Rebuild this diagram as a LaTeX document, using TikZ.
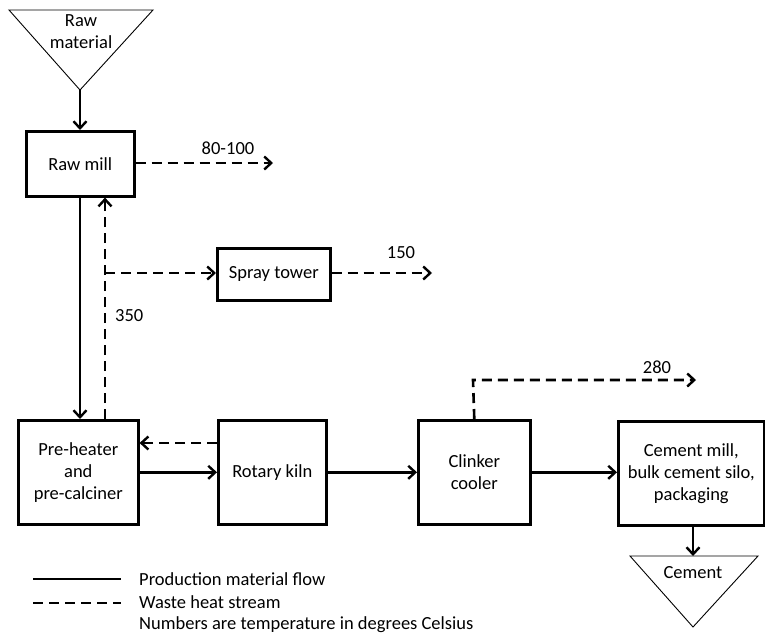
\documentclass[tikz,border=0pt]{standalone}
\usepackage{fontspec}
\setmainfont{Carlito}
\usetikzlibrary{arrows.meta,positioning}

\begin{document}
\begin{tikzpicture}[
        x=1pt, y=-1pt,
        box/.style={draw, line width=2.6pt, align=center, inner sep=0pt, anchor=north west,
                    font=\fontsize{18.5}{22}\selectfont},
        txt/.style={font=\fontsize{18.5}{22}\selectfont, inner sep=0pt},
        flow/.style={line width=2.6pt, -{Straight Barb[length=7pt,width=13pt,line width=2.4pt]}},
        heat/.style={flow, dash pattern=on 10pt off 6pt},
        hopper/.style={line width=0.9pt}
        ]
        \useasboundingbox (0,0) rectangle (765,635);
        \node[box, minimum width=108, minimum height=65]    (rawmill)  at (25,130)  {Raw mill};
        \node[box, minimum width=113, minimum height=52]    (spray)    at (216,247) {Spray tower};
        \node[box, minimum width=120, minimum height=104]   (preheat)  at (17,419)  {Pre-heater\\and\\pre-calciner};
        \node[box, minimum width=108, minimum height=104]   (kiln)     at (217,419) {Rotary kiln};
        \node[box, minimum width=112, minimum height=104]   (cooler)   at (417,419) {Clinker\\cooler};
        \node[box, minimum width=146, minimum height=104]   (cmill)    at (617,420) {Cement mill,\\bulk cement silo,\\packaging};

        \coordinate (rawtl)  at (9,10);
        \coordinate (rawtr)  at (153,10);
        \coordinate (rawtip) at (80,90);
        \coordinate (cemtl)  at (630,556);
        \coordinate (cemtr)  at (758,556);
        \coordinate (cemtip) at (693,627);
        \coordinate (cemtop) at (693,556);
        \coordinate (split)  at (105,273);
        \coordinate (out1)   at (273,163);
        \coordinate (out2)   at (432,273);
        \coordinate (bend)   at (473,380);
        \coordinate (out3)   at (696,380);

        \draw[hopper] (rawtl) -- (rawtr) -- (rawtip) -- cycle;
        \draw[hopper] (cemtl) -- (cemtr) -- (cemtip) -- cycle;
        \node[txt, align=center] (rawmat) at (81,32)  {Raw\\material};
        \node[txt]               (cement) at (693,573) {Cement};

        \draw[flow] (rawtip) -- (rawtip |- rawmill.north);
        \draw[flow] (rawmill.south -| rawtip) -- (rawtip |- preheat.north);
        \draw[flow] (preheat.east) -- (kiln.west);
        \draw[flow] (kiln.east) -- (cooler.west);
        \draw[flow] (cooler.east) -- (cooler.east -| cmill.west);
        \draw[flow] (cmill.south -| cemtop) -- (cemtop);

        \draw[heat] (rawmill.east |- out1) -- (out1);
        \draw[heat] (preheat.north -| split) -- (rawmill.south -| split);
        \draw[heat] (split) -- (split -| spray.west);
        \draw[heat] (spray.east |- out2) -- (out2);
        \draw[heat] (kiln.west |- 0,443) -- (preheat.east |- 0,443);
        \draw[heat] (cooler.north) -- (bend) -- (out3);

        \node[txt] (t80)  at (228,148) {80-100};
        \node[txt] (t150) at (401,253) {150};
        \node[txt, anchor=west] (t350) at (115,316) {350};
        \node[txt] (t280) at (657,367) {280};

        \coordinate (lega) at (33,579);
        \coordinate (legb) at (121,579);
        \coordinate (legc) at (33,603);
        \coordinate (legd) at (121,603);
        \draw[line width=2.6pt] (lega) -- (legb);
        \draw[line width=2.6pt, dash pattern=on 10pt off 6pt] (legc) -- (legd);
        \node[txt, anchor=west] (leg1) at (139,579) {Production material flow};
        \node[txt, anchor=west] (leg2) at (139,602) {Waste heat stream};
        \node[txt, anchor=west] (leg3) at (139,625) {Numbers are temperature in degrees Celsius};
\end{tikzpicture}
\end{document}
